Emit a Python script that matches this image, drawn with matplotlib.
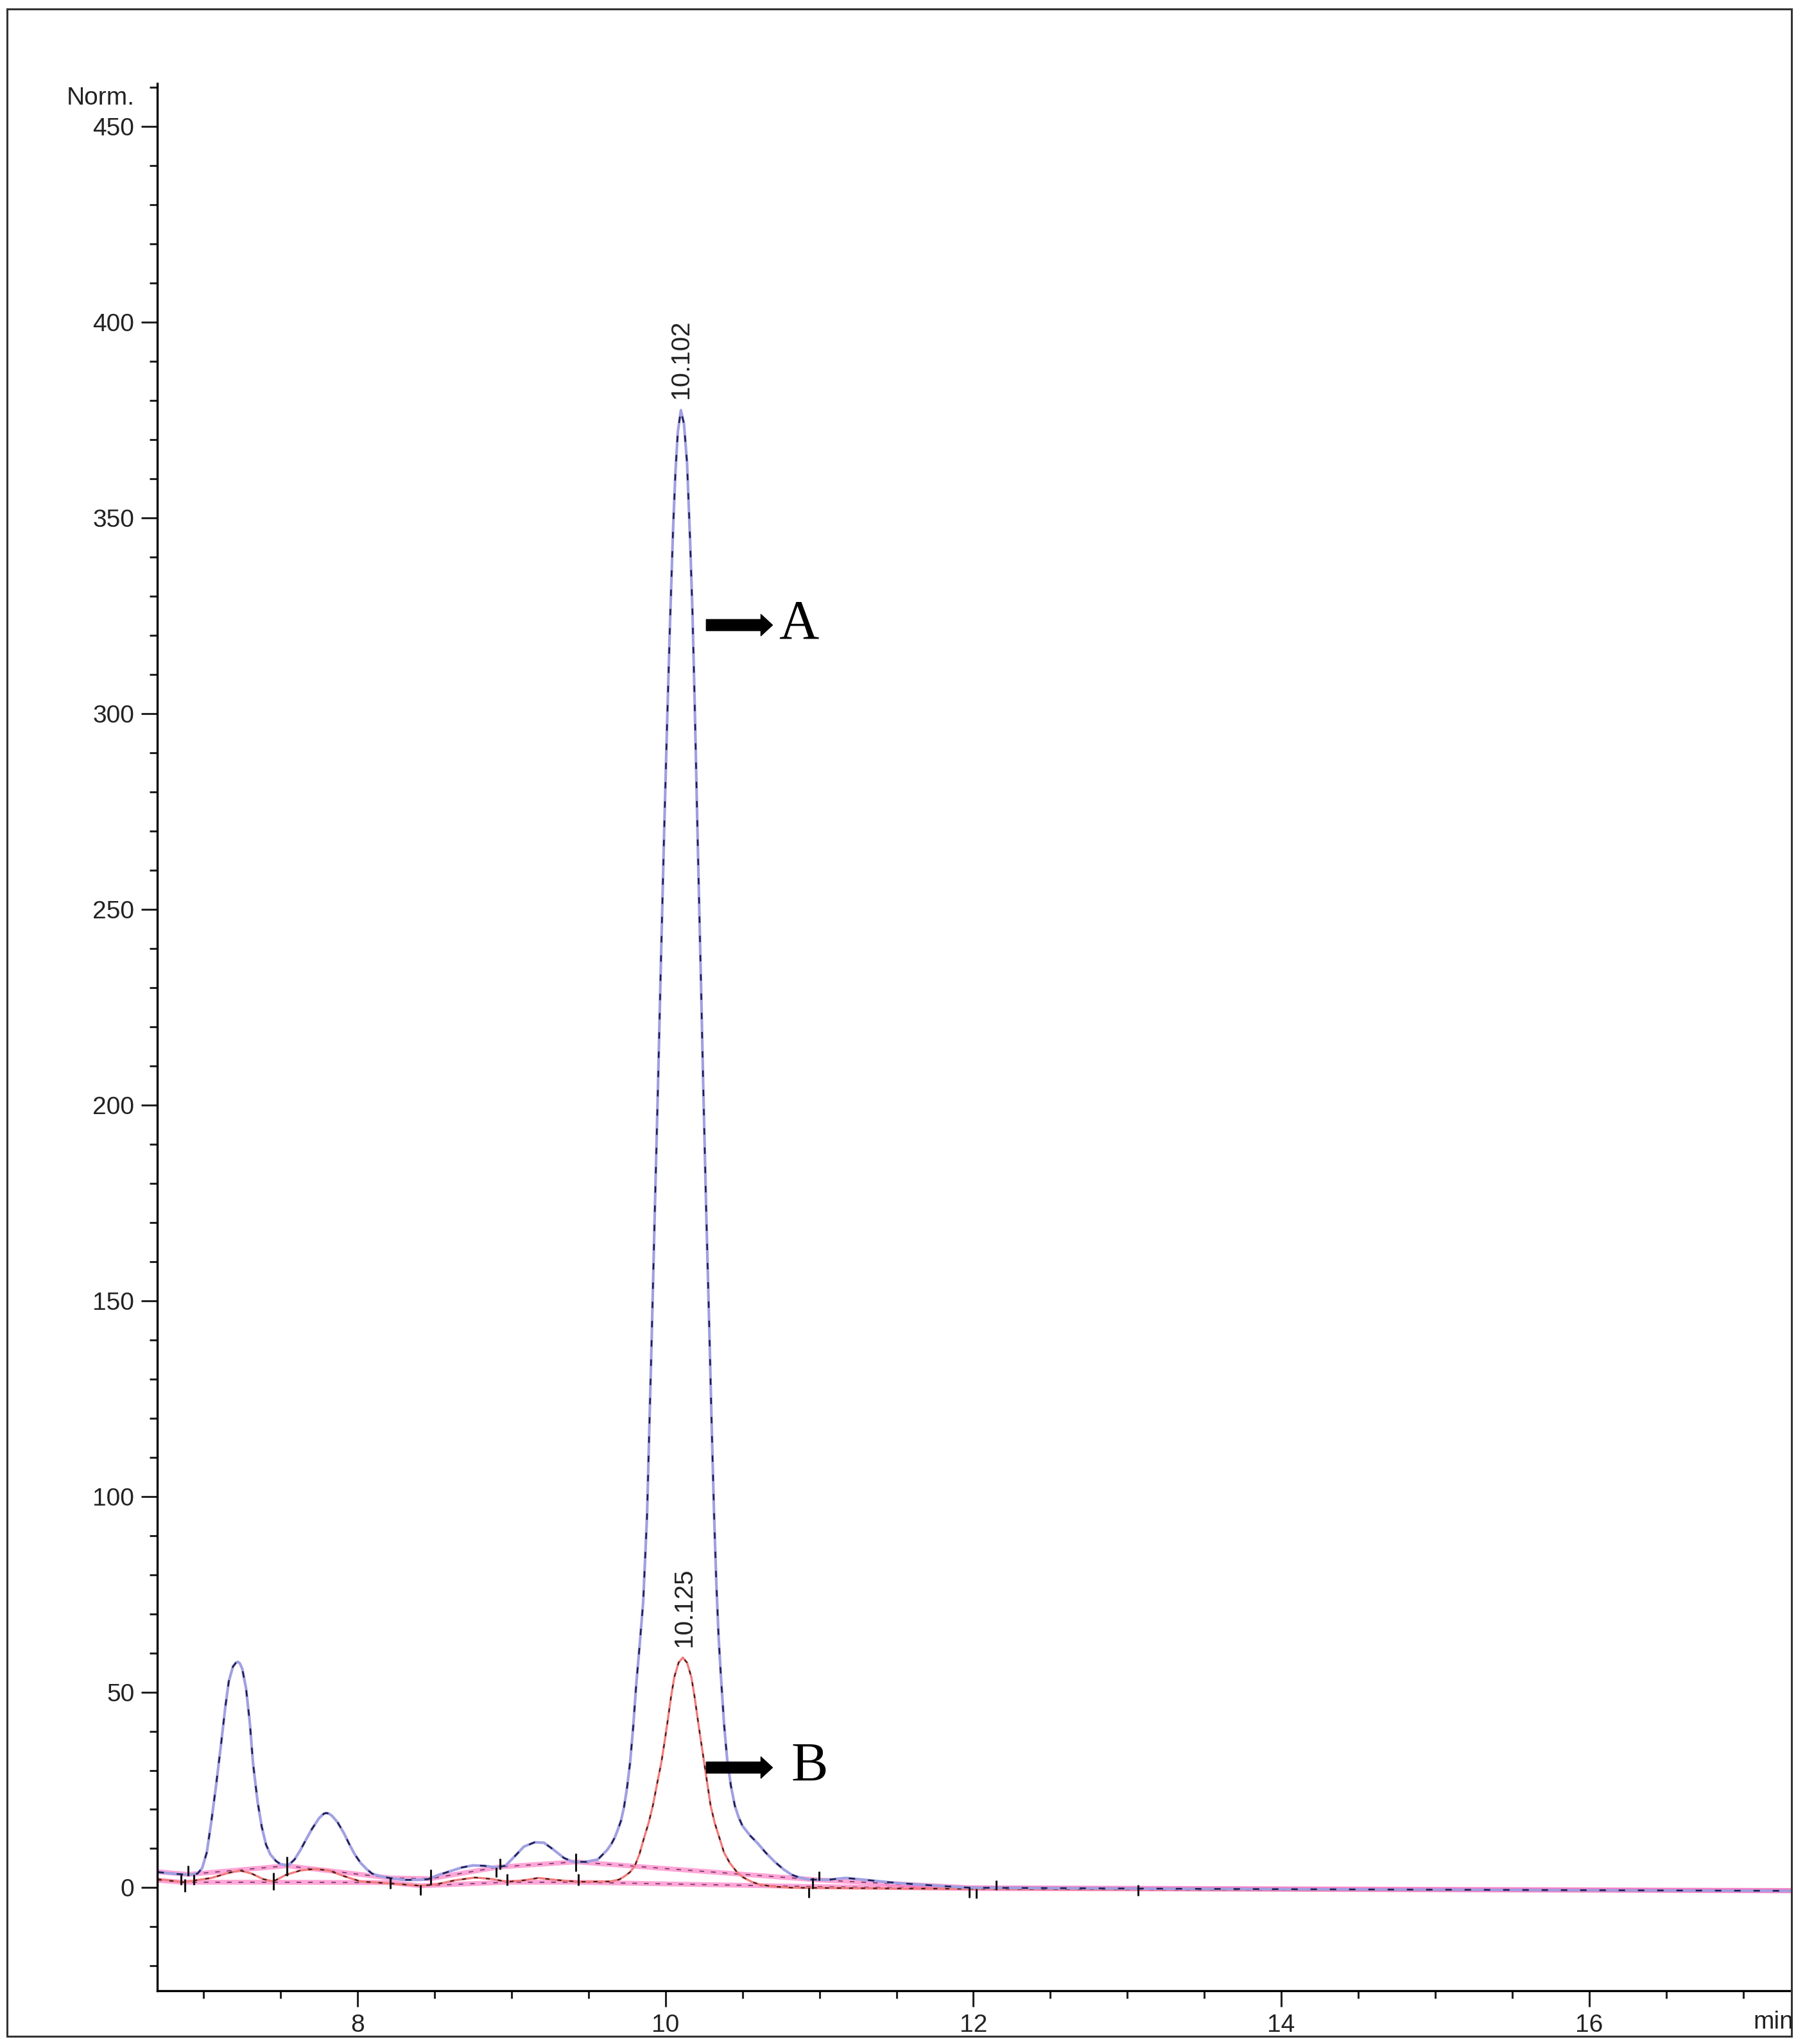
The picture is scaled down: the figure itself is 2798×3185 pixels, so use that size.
# HPLC chromatogram overlay (A = sample, B = standard)
import matplotlib
matplotlib.use("Agg")
import matplotlib.pyplot as plt
from matplotlib.patches import Rectangle

plt.rcParams['font.family'] = ['Liberation Sans', 'DejaVu Sans']

# Step 1: data (time in min, signal in Norm.)
time_a = [6.70, 6.80, 6.90, 6.96, 6.99, 7.02, 7.05, 7.08, 7.115, 7.14, 7.163, 7.19,
          7.21, 7.223, 7.235, 7.25, 7.275, 7.30, 7.32, 7.35, 7.377, 7.405, 7.433, 7.47,
          7.50, 7.55, 7.59, 7.628, 7.665, 7.703, 7.75, 7.78, 7.796, 7.815, 7.835, 7.87,
          7.91, 7.945, 7.98, 8.02, 8.06, 8.094, 8.15, 8.206, 8.30, 8.40, 8.46, 8.52,
          8.60, 8.68, 8.75, 8.82, 8.90, 8.96, 9.02, 9.08, 9.15, 9.21, 9.27, 9.34,
          9.40, 9.48, 9.56, 9.62, 9.65, 9.67, 9.69, 9.71, 9.73, 9.75, 9.77, 9.79,
          9.81, 9.83, 9.855, 9.88, 9.91, 9.93, 9.95, 9.97, 9.99, 10.01, 10.03, 10.05,
          10.065, 10.08, 10.10, 10.12, 10.14, 10.16, 10.175, 10.19, 10.21, 10.23, 10.245, 10.265,
          10.285, 10.30, 10.315, 10.33, 10.345, 10.36, 10.38, 10.40, 10.425, 10.45, 10.475, 10.50,
          10.55, 10.60, 10.65, 10.71, 10.77, 10.82, 10.87, 10.93, 11.05, 11.17, 11.30, 11.45,
          11.65, 11.85, 11.98, 12.50, 13.50, 15.00, 17.31]
signal_a = [4.0, 3.6, 3.3, 3.6, 5.0, 9.0, 17.0, 26.0, 37.4, 46.0, 52.7, 56.5,
            57.5, 57.7, 57.3, 56.0, 51.0, 42.0, 32.0, 22.0, 15.6, 11.0, 8.5, 6.8,
            6.0, 5.7, 7.2, 9.6, 12.3, 15.0, 17.8, 18.9, 19.1, 18.9, 18.3, 16.7,
            14.0, 11.2, 8.6, 6.3, 4.7, 3.6, 2.9, 2.5, 2.0, 2.0, 2.2, 3.2,
            4.2, 5.2, 5.7, 5.6, 5.2, 5.6, 8.0, 10.5, 11.6, 11.5, 9.8, 7.6,
            6.6, 6.6, 7.2, 9.6, 11.3, 12.8, 14.8, 17.0, 20.5, 25.5, 32.0, 41.0,
            52.0, 61.0, 73.0, 95.0, 140.0, 172.0, 203.0, 236.0, 268.0, 297.0, 324.0, 348.0,
            362.0, 372.0, 377.5, 374.0, 364.0, 344.0, 326.0, 302.0, 266.0, 232.0, 205.0, 172.0,
            142.0, 118.0, 96.0, 78.0, 64.0, 54.0, 42.0, 33.0, 26.0, 21.0, 18.0, 15.8,
            13.3, 11.3, 9.0, 6.6, 4.6, 3.3, 2.6, 2.1, 2.0, 2.5, 2.0, 1.4,
            0.8, 0.3, 0.0, -0.1, -0.3, -0.5, -0.8]

time_b = [6.70, 6.865, 7.051, 7.163, 7.237, 7.312, 7.386, 7.452, 7.535, 7.628, 7.721,
          7.815, 7.908, 8.019, 8.206, 8.41, 8.503, 8.634, 8.764, 8.876, 8.972, 9.081,
          9.174, 9.285, 9.434, 9.64, 9.70, 9.737, 9.77, 9.80, 9.83, 9.862, 9.89, 9.918,
          9.945, 9.973, 9.995, 10.015, 10.035, 10.057, 10.085, 10.112, 10.14, 10.168, 10.19,
          10.21, 10.23, 10.251, 10.272, 10.293, 10.32, 10.349, 10.38, 10.418, 10.46, 10.502,
          10.56, 10.613, 10.70, 10.82, 11.5, 12.0, 13.5, 15.0, 17.31]
signal_b = [2.2, 1.4, 2.5, 3.8, 4.4, 3.6, 2.2, 1.6, 3.3, 4.4, 4.8,
            4.4, 3.0, 1.6, 1.1, 0.5, 0.8, 1.9, 2.6, 2.2, 1.5, 1.9,
            2.5, 2.0, 1.5, 1.6, 2.1, 3.0, 4.0, 5.5, 8.5, 12.9, 16.5, 21.0,
            26.5, 32.0, 37.5, 42.9, 48.5, 53.8, 57.5, 58.8, 57.5, 53.8, 48.5,
            42.9, 37.5, 32.0, 26.5, 21.0, 16.5, 12.9, 9.0, 6.3, 4.2, 2.7,
            1.5, 0.8, 0.3, 0.0, -0.2, -0.3, -0.5, -0.6, -0.8]

# integration baselines drawn by the software
base_upper_t = [6.70, 6.90, 7.54, 8.21, 8.47, 8.92, 9.42, 10.99, 11.98, 17.31]
base_upper_v = [4.1, 3.4, 5.6, 2.5, 2.3, 5.3, 6.6, 2.0, 0.0, -0.7]
base_lower_t = [6.70, 6.86, 7.45, 8.21, 8.41, 8.97, 9.43, 10.93, 11.98, 17.31]
base_lower_v = [1.9, 1.4, 1.4, 1.3, 0.5, 1.4, 1.4, 0.3, -0.2, -0.8]

# peak start / end marks (time, low, high)
mark_t = [6.852, 6.878, 6.90, 6.934, 7.452, 7.541, 8.211, 8.406, 8.475, 8.90, 8.926,
          8.972, 9.419, 9.434, 10.929, 10.954, 10.999, 11.975, 12.02, 12.149, 13.07]
mark_lo = [0.8, -1.1, 3.0, 0.8, -0.5, 3.0, -0.3, -1.9, 0.8, 2.7, 4.6,
           0.5, 4.1, 0.5, -2.5, -0.3, 1.9, -2.5, -2.7, -0.5, -2.0]
mark_hi = [3.3, 2.2, 5.7, 3.3, 3.8, 7.9, 2.5, 0.8, 4.6, 5.2, 7.4,
           3.6, 8.7, 3.6, 0.0, 2.5, 4.1, 0.0, -0.3, 1.9, 0.7]

peak_labels = ["10.102", "10.125"]
peak_label_t = [10.10, 10.12]
peak_label_v = [380.5, 61.5]

# Step 2: figure and axes
fig = plt.figure(figsize=(27.98, 31.85), dpi=100)
ax = fig.add_axes([0.0877, 0.0261, 0.9094, 0.9331])
ax.set_xlim(6.70, 17.31)
ax.set_ylim(-26.3, 461)

# baselines (pink glow with dark dashes)
for bt, bv in [(base_upper_t, base_upper_v), (base_lower_t, base_lower_v)]:
    ax.plot(bt, bv, color='#ff4fb0', lw=5.5, alpha=0.5, solid_capstyle='round')
    ax.plot(bt, bv, color='#7a3a6a', lw=1.3, linestyle=(0, (4, 6)))

# curve B (red)
ax.plot(time_b, signal_b, color='#f27c7c', lw=2.4)
ax.plot(time_b, signal_b, color='#3a1a1a', lw=1.5, linestyle=(0, (3, 6)))

# curve A (blue)
ax.plot(time_a, signal_a, color='#a0a0e2', lw=3.0)
ax.plot(time_a, signal_a, color='#1c1c4e', lw=1.8, linestyle=(0, (4, 8)))

# integration marks
ax.vlines(mark_t, mark_lo, mark_hi, color='#111111', lw=2.2)

# retention time labels
for lab, t, v in zip(peak_labels, peak_label_t, peak_label_v):
    ax.text(t, v, lab, rotation=90, ha='center', va='bottom', fontsize=29, color='#222222')

# arrows and A / B captions
arrow_y = [322.6, 30.7]
arrow_t0 = [10.265, 10.265]
arrow_t1 = [10.695, 10.695]
captions = ["A", "B"]
caption_t = [10.737, 10.816]
for y, t0, t1, cap, ct in zip(arrow_y, arrow_t0, arrow_t1, captions, caption_t):
    ax.annotate('', xy=(t1, y), xytext=(t0, y),
                arrowprops=dict(arrowstyle='simple,head_length=1.3,head_width=2.4,tail_width=1.25',
                                mutation_scale=10, color='black', shrinkA=0, shrinkB=0))
    ax.text(ct, y, cap, ha='left', va='center', fontsize=62,
            family=['Liberation Serif', 'DejaVu Serif'], color='black')

# Step 3: axis styling
ax.spines['top'].set_visible(False)
ax.spines['right'].set_visible(False)
ax.spines['left'].set_linewidth(2.4)
ax.spines['bottom'].set_linewidth(2.4)
ax.set_yticks(range(0, 451, 50))
ax.set_yticks(range(-20, 461, 10), minor=True)
ax.set_xticks([8, 10, 12, 14, 16])
ax.set_xticks([7 + 0.5 * i for i in range(21)], minor=True)
ax.tick_params(axis='both', which='major', length=18, width=2.2, labelsize=28, pad=8, colors='#222222')
ax.tick_params(axis='both', which='minor', length=8.5, width=2.2, colors='#222222')

fig.text(210 / 2798, 1 - 153 / 3185, "Norm.", ha='right', va='center', fontsize=28, color='#222222')
fig.text(2794 / 2798, 1 - 3151 / 3185, "min", ha='right', va='center', fontsize=28, color='#222222')

# outer frame
fig.add_artist(Rectangle((11 / 2798, 12 / 3185), 2780 / 2798, 3159 / 3185,
                         transform=fig.transFigure, fill=False, lw=2.2, edgecolor='#333333'))

fig.savefig("out.png", dpi=100)
